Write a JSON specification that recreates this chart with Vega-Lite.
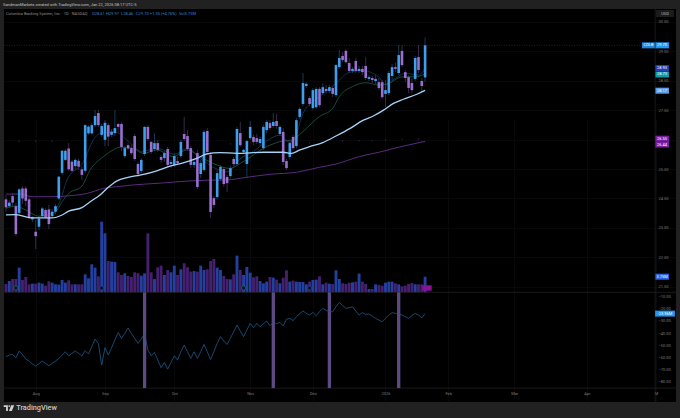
{
  "$schema": "https://vega.github.io/schema/vega-lite/v6.json",
  "width": 672,
  "height": 393,
  "padding": {"left": 4, "top": 9, "right": 4, "bottom": 16},
  "autosize": {"type": "none"},
  "background": "#212121",
  "view": {"fill": "#000000", "stroke": null},
  "title": {
    "text": "SandmanMarkets created with TradingView.com, Jan 22, 2026 08:17 UTC-5",
    "anchor": "start",
    "frame": "group",
    "font": "Roboto",
    "fontSize": 4,
    "fontWeight": "normal",
    "color": "#c4c4c4",
    "offset": 2,
    "dx": -1
  },
  "data": {"values": [{}]},
  "datasets": {
    "candles": [
      {"bar":-9,"open":24.47,"high":24.62,"low":24.04,"close":24.2,"dir":"d","vol":2.0,"ind":-59.6},
      {"bar":-8,"open":24.24,"high":24.45,"low":24.18,"close":24.36,"dir":"u","vol":2.72,"ind":-58.2},
      {"bar":-7,"open":24.58,"high":24.68,"low":24.24,"close":24.36,"dir":"d","vol":3.2,"ind":-57.7},
      {"bar":-6,"open":24.24,"high":24.35,"low":23.22,"close":23.29,"dir":"d","vol":3.2,"ind":-60.4},
      {"bar":-5,"open":24.01,"high":24.85,"low":23.97,"close":24.81,"dir":"u","vol":5.93,"ind":-54.9},
      {"bar":-4,"open":24.84,"high":24.92,"low":24.31,"close":24.5,"dir":"d","vol":2.96,"ind":-57.7},
      {"bar":-3,"open":24.84,"high":24.92,"low":24.24,"close":24.42,"dir":"d","vol":3.68,"ind":-61.5},
      {"bar":-2,"open":24.47,"high":24.55,"low":23.8,"close":23.86,"dir":"d","vol":1.92,"ind":-63.2},
      {"bar":-1,"open":23.79,"high":23.9,"low":23.7,"close":23.86,"dir":"u","vol":2.08,"ind":-65.6},
      {"bar":0,"open":23.37,"high":23.77,"low":22.78,"close":23.22,"dir":"d","vol":2.08,"ind":-67.3},
      {"bar":1,"open":23.54,"high":23.9,"low":23.43,"close":23.82,"dir":"u","vol":2.32,"ind":-65.4},
      {"bar":2,"open":23.9,"high":24.21,"low":23.84,"close":24.16,"dir":"u","vol":2.08,"ind":-63.2},
      {"bar":3,"open":24.11,"high":24.18,"low":23.8,"close":23.86,"dir":"d","vol":1.6,"ind":-65.1},
      {"bar":4,"open":24.13,"high":24.28,"low":23.46,"close":23.63,"dir":"d","vol":2.64,"ind":-67},
      {"bar":5,"open":23.9,"high":24.14,"low":23.84,"close":24.05,"dir":"u","vol":2.32,"ind":-65.1},
      {"bar":6,"open":24.05,"high":24.31,"low":23.97,"close":24.24,"dir":"u","vol":1.92,"ind":-63.2},
      {"bar":7,"open":24.5,"high":25.26,"low":24.45,"close":25.24,"dir":"u","vol":1.84,"ind":-61},
      {"bar":8,"open":25.37,"high":26.15,"low":25.3,"close":26.12,"dir":"u","vol":2.96,"ind":-58.2},
      {"bar":9,"open":25.81,"high":26.18,"low":25.77,"close":26.12,"dir":"u","vol":2.32,"ind":-55.5},
      {"bar":10,"open":26.2,"high":26.38,"low":25.43,"close":25.49,"dir":"d","vol":2.88,"ind":-58.8},
      {"bar":11,"open":25.75,"high":25.81,"low":25.4,"close":25.44,"dir":"d","vol":1.92,"ind":-56.8},
      {"bar":12,"open":25.6,"high":25.87,"low":25.47,"close":25.81,"dir":"u","vol":1.92,"ind":-54.9},
      {"bar":13,"open":25.78,"high":25.84,"low":25.47,"close":25.58,"dir":"d","vol":1.92,"ind":-56.8},
      {"bar":14,"open":25.49,"high":25.58,"low":25.13,"close":25.3,"dir":"d","vol":1.92,"ind":-59},
      {"bar":15,"open":25.44,"high":27.03,"low":25.37,"close":26.99,"dir":"u","vol":4.33,"ind":-54.6},
      {"bar":16,"open":26.71,"high":26.99,"low":26.66,"close":26.94,"dir":"u","vol":3.36,"ind":-57.4},
      {"bar":17,"open":26.71,"high":27.06,"low":26.66,"close":26.99,"dir":"u","vol":6.73,"ind":-51.3},
      {"bar":18,"open":26.99,"high":27.5,"low":26.93,"close":27.3,"dir":"u","vol":5.93,"ind":-45},
      {"bar":19,"open":27.4,"high":27.5,"low":26.93,"close":26.99,"dir":"d","vol":3.84,"ind":-48.6},
      {"bar":20,"open":26.66,"high":27.03,"low":26.59,"close":26.96,"dir":"u","vol":16.98,"ind":-66.5},
      {"bar":21,"open":26.49,"high":27.16,"low":26.28,"close":27.07,"dir":"u","vol":14.18,"ind":-52.1},
      {"bar":22,"open":26.99,"high":27.06,"low":26.28,"close":26.6,"dir":"d","vol":7.53,"ind":-58.2},
      {"bar":23,"open":26.66,"high":26.86,"low":26.59,"close":26.77,"dir":"u","vol":7.37,"ind":-52.1},
      {"bar":24,"open":26.72,"high":27.5,"low":26.62,"close":26.89,"dir":"u","vol":7.29,"ind":-45.8},
      {"bar":25,"open":27.03,"high":27.06,"low":26.76,"close":26.93,"dir":"d","vol":4.81,"ind":-39.5},
      {"bar":26,"open":27.03,"high":27.1,"low":26.11,"close":26.25,"dir":"d","vol":4.17,"ind":-44.4},
      {"bar":27,"open":25.94,"high":26.28,"low":25.87,"close":26.21,"dir":"u","vol":4.57,"ind":-40.3},
      {"bar":28,"open":26.31,"high":26.38,"low":26.15,"close":26.2,"dir":"d","vol":3.92,"ind":-35.9},
      {"bar":29,"open":26.21,"high":26.31,"low":25.98,"close":26.04,"dir":"d","vol":3.68,"ind":-40.3},
      {"bar":30,"open":26.62,"high":26.69,"low":25.77,"close":25.84,"dir":"d","vol":4.81,"ind":-44.4},
      {"bar":31,"open":25.67,"high":25.74,"low":25.23,"close":25.33,"dir":"d","vol":4.57,"ind":-48.6},
      {"bar":32,"open":25.43,"high":25.87,"low":25.36,"close":25.81,"dir":"u","vol":4.0,"ind":-45},
      {"bar":33,"open":26.01,"high":26.96,"low":25.94,"close":26.93,"dir":"u","vol":4.57,"ind":-40.3},
      {"bar":34,"open":26.93,"high":26.99,"low":26.45,"close":26.52,"dir":"d","vol":14.18,"ind":-54.1},
      {"bar":35,"open":26.42,"high":26.45,"low":26.01,"close":26.08,"dir":"d","vol":4.81,"ind":-58.8},
      {"bar":36,"open":26.18,"high":26.72,"low":26.11,"close":26.38,"dir":"u","vol":3.2,"ind":-56},
      {"bar":37,"open":26.38,"high":26.49,"low":26.08,"close":26.15,"dir":"d","vol":6.01,"ind":-62.3},
      {"bar":38,"open":25.91,"high":25.98,"low":25.7,"close":25.81,"dir":"d","vol":6.41,"ind":-68.7},
      {"bar":39,"open":25.87,"high":26.11,"low":25.74,"close":26.04,"dir":"u","vol":4.17,"ind":-64.3},
      {"bar":40,"open":26.18,"high":26.25,"low":25.57,"close":25.64,"dir":"d","vol":5.37,"ind":-69.8},
      {"bar":41,"open":25.67,"high":25.81,"low":25.53,"close":25.74,"dir":"u","vol":4.81,"ind":-64.3},
      {"bar":42,"open":25.64,"high":26.04,"low":25.57,"close":25.94,"dir":"u","vol":6.41,"ind":-58.8},
      {"bar":43,"open":25.77,"high":25.91,"low":25.64,"close":25.7,"dir":"d","vol":4.17,"ind":-62.3},
      {"bar":44,"open":25.94,"high":26.49,"low":25.87,"close":26.42,"dir":"u","vol":5.53,"ind":-55.5},
      {"bar":45,"open":26.69,"high":27.27,"low":26.45,"close":26.52,"dir":"d","vol":6.97,"ind":-49.9},
      {"bar":46,"open":26.62,"high":26.82,"low":26.11,"close":26.18,"dir":"d","vol":6.01,"ind":-55.5},
      {"bar":47,"open":26.21,"high":26.28,"low":25.53,"close":25.64,"dir":"d","vol":4.97,"ind":-61},
      {"bar":48,"open":25.64,"high":25.87,"low":25.53,"close":25.74,"dir":"u","vol":5.13,"ind":-55.5},
      {"bar":49,"open":26.04,"high":26.15,"low":24.82,"close":24.89,"dir":"d","vol":4.97,"ind":-61},
      {"bar":50,"open":25.33,"high":25.81,"low":25.19,"close":25.7,"dir":"u","vol":6.41,"ind":-55.5},
      {"bar":51,"open":25.47,"high":26.82,"low":25.4,"close":26.76,"dir":"u","vol":5.37,"ind":-49.4},
      {"bar":52,"open":26.79,"high":26.89,"low":26.01,"close":26.08,"dir":"d","vol":5.53,"ind":-55.5},
      {"bar":53,"open":25.98,"high":26.08,"low":23.84,"close":24.04,"dir":"d","vol":7.53,"ind":-61.8},
      {"bar":54,"open":24.51,"high":24.58,"low":24.18,"close":24.28,"dir":"d","vol":8.01,"ind":-55.5},
      {"bar":55,"open":24.55,"high":25.47,"low":24.48,"close":25.36,"dir":"u","vol":5.93,"ind":-48.6},
      {"bar":56,"open":25.16,"high":25.64,"low":25.09,"close":25.57,"dir":"u","vol":5.37,"ind":-43},
      {"bar":57,"open":25.5,"high":25.57,"low":24.89,"close":24.99,"dir":"d","vol":3.92,"ind":-46.6},
      {"bar":58,"open":25.23,"high":25.3,"low":24.72,"close":25.02,"dir":"d","vol":3.2,"ind":-49.4},
      {"bar":59,"open":25.26,"high":25.6,"low":25.19,"close":25.53,"dir":"u","vol":3.12,"ind":-44.4},
      {"bar":60,"open":25.84,"high":25.91,"low":25.6,"close":25.67,"dir":"d","vol":4.33,"ind":-38.9},
      {"bar":61,"open":25.67,"high":26.93,"low":25.6,"close":26.86,"dir":"u","vol":8.81,"ind":-33.4},
      {"bar":62,"open":26.72,"high":27.1,"low":26.25,"close":26.31,"dir":"d","vol":5.37,"ind":-38.4},
      {"bar":63,"open":26.08,"high":26.18,"low":26.04,"close":26.15,"dir":"u","vol":4.17,"ind":-43},
      {"bar":64,"open":25.67,"high":26.49,"low":25.19,"close":26.45,"dir":"u","vol":6.09,"ind":-37.5},
      {"bar":65,"open":26.55,"high":27.13,"low":26.49,"close":26.93,"dir":"u","vol":4.73,"ind":-32},
      {"bar":66,"open":26.59,"high":26.66,"low":26.31,"close":26.42,"dir":"d","vol":3.6,"ind":-35.6},
      {"bar":67,"open":26.55,"high":26.69,"low":26.35,"close":26.42,"dir":"d","vol":3.84,"ind":-32},
      {"bar":68,"open":26.38,"high":26.59,"low":26.28,"close":26.52,"dir":"u","vol":2.72,"ind":-34.8},
      {"bar":69,"open":26.21,"high":26.99,"low":26.15,"close":26.93,"dir":"u","vol":2.16,"ind":-32.3},
      {"bar":70,"open":26.82,"high":27.16,"low":26.72,"close":27.1,"dir":"u","vol":2.56,"ind":-30.1},
      {"bar":71,"open":27.06,"high":27.16,"low":26.82,"close":26.89,"dir":"d","vol":3.68,"ind":-34},
      {"bar":72,"open":26.96,"high":27.4,"low":26.89,"close":27.1,"dir":"u","vol":3.52,"ind":-31.2},
      {"bar":73,"open":27.13,"high":27.37,"low":26.86,"close":26.96,"dir":"d","vol":3.04,"ind":-32.3},
      {"bar":74,"open":26.69,"high":26.99,"low":26.62,"close":26.93,"dir":"u","vol":2.16,"ind":-31.2},
      {"bar":75,"open":26.76,"high":26.89,"low":25.64,"close":25.74,"dir":"d","vol":3.52,"ind":-34.2},
      {"bar":76,"open":25.77,"high":25.84,"low":25.47,"close":25.53,"dir":"d","vol":5.29,"ind":-28.5},
      {"bar":77,"open":25.91,"high":26.45,"low":25.84,"close":26.38,"dir":"u","vol":2.56,"ind":-27.9},
      {"bar":78,"open":26.59,"high":26.66,"low":26.15,"close":26.21,"dir":"d","vol":2.8,"ind":-29.8},
      {"bar":79,"open":26.28,"high":27.23,"low":26.21,"close":27.16,"dir":"u","vol":2.56,"ind":-26.5},
      {"bar":80,"open":27.27,"high":27.6,"low":27.2,"close":27.54,"dir":"u","vol":2.48,"ind":-24},
      {"bar":81,"open":27.71,"high":28.76,"low":27.64,"close":28.42,"dir":"u","vol":2.48,"ind":-21.8},
      {"bar":82,"open":28.32,"high":28.45,"low":28.25,"close":28.39,"dir":"u","vol":1.92,"ind":-23.8},
      {"bar":83,"open":27.91,"high":27.98,"low":27.64,"close":27.71,"dir":"d","vol":2.56,"ind":-25.2},
      {"bar":84,"open":27.57,"high":28.25,"low":27.5,"close":28.18,"dir":"u","vol":2.96,"ind":-23},
      {"bar":85,"open":27.6,"high":28.28,"low":27.54,"close":28.22,"dir":"u","vol":3.04,"ind":-25.7},
      {"bar":86,"open":28.22,"high":28.28,"low":27.6,"close":27.67,"dir":"d","vol":3.84,"ind":-22.4},
      {"bar":87,"open":28.08,"high":28.42,"low":28.01,"close":28.28,"dir":"u","vol":1.92,"ind":-19.6},
      {"bar":88,"open":28.22,"high":28.35,"low":28.05,"close":28.15,"dir":"d","vol":2.32,"ind":-21.3},
      {"bar":89,"open":28.15,"high":28.35,"low":28.08,"close":28.28,"dir":"u","vol":2.08,"ind":-22.4},
      {"bar":90,"open":28.25,"high":28.32,"low":27.94,"close":28.05,"dir":"d","vol":2.0,"ind":-22.4},
      {"bar":91,"open":28.01,"high":29.07,"low":27.94,"close":29.03,"dir":"u","vol":5.29,"ind":-18.3},
      {"bar":92,"open":28.96,"high":29.54,"low":28.9,"close":29.27,"dir":"u","vol":3.2,"ind":-14.7},
      {"bar":93,"open":29.34,"high":29.47,"low":29.13,"close":29.2,"dir":"d","vol":2.16,"ind":-17.4},
      {"bar":94,"open":29.51,"high":29.57,"low":29.07,"close":29.13,"dir":"d","vol":2.0,"ind":-19.6},
      {"bar":95,"open":29.1,"high":29.27,"low":28.76,"close":28.83,"dir":"d","vol":2.32,"ind":-19.1},
      {"bar":96,"open":28.83,"high":28.96,"low":28.76,"close":28.9,"dir":"u","vol":2.4,"ind":-18.3},
      {"bar":97,"open":29.17,"high":29.27,"low":28.76,"close":28.83,"dir":"d","vol":2.56,"ind":-21.8},
      {"bar":98,"open":28.83,"high":29.0,"low":28.76,"close":28.9,"dir":"u","vol":4.49,"ind":-25.2},
      {"bar":99,"open":28.9,"high":29.0,"low":28.69,"close":28.79,"dir":"d","vol":2.56,"ind":-23.2},
      {"bar":100,"open":29.0,"high":29.3,"low":28.52,"close":28.59,"dir":"d","vol":2.0,"ind":-24.6},
      {"bar":101,"open":28.56,"high":28.69,"low":28.49,"close":28.62,"dir":"u","vol":0.8,"ind":-24.3},
      {"bar":102,"open":28.59,"high":28.66,"low":28.42,"close":28.52,"dir":"d","vol":0.8,"ind":-26},
      {"bar":103,"open":28.49,"high":28.69,"low":28.39,"close":28.56,"dir":"u","vol":1.92,"ind":-27.9},
      {"bar":104,"open":28.45,"high":28.59,"low":28.18,"close":28.25,"dir":"d","vol":1.76,"ind":-29.3},
      {"bar":105,"open":28.45,"high":28.52,"low":27.88,"close":27.94,"dir":"d","vol":1.6,"ind":-30.7},
      {"bar":106,"open":28.05,"high":28.52,"low":27.6,"close":28.18,"dir":"u","vol":2.32,"ind":-27.9},
      {"bar":107,"open":28.08,"high":28.83,"low":28.01,"close":28.76,"dir":"u","vol":2.56,"ind":-25.2},
      {"bar":108,"open":28.66,"high":29.07,"low":28.52,"close":28.96,"dir":"u","vol":2.56,"ind":-23.2},
      {"bar":109,"open":28.96,"high":29.1,"low":28.79,"close":28.9,"dir":"d","vol":2.16,"ind":-23.8},
      {"bar":110,"open":28.76,"high":29.71,"low":28.69,"close":29.37,"dir":"u","vol":1.92,"ind":-23.8},
      {"bar":111,"open":29.51,"high":29.71,"low":28.96,"close":29.03,"dir":"d","vol":1.44,"ind":-25.2},
      {"bar":112,"open":28.79,"high":28.86,"low":28.45,"close":28.59,"dir":"d","vol":1.6,"ind":-26.5},
      {"bar":113,"open":28.62,"high":28.69,"low":28.08,"close":28.25,"dir":"d","vol":2.0,"ind":-27.9},
      {"bar":114,"open":28.42,"high":28.59,"low":28.08,"close":28.18,"dir":"d","vol":2.24,"ind":-25.7},
      {"bar":115,"open":28.56,"high":29.34,"low":28.49,"close":29.27,"dir":"u","vol":1.92,"ind":-23.8},
      {"bar":116,"open":29.3,"high":29.71,"low":28.76,"close":28.86,"dir":"d","vol":1.92,"ind":-25.2},
      {"bar":117,"open":28.49,"high":28.59,"low":28.11,"close":28.32,"dir":"d","vol":1.92,"ind":-27.4},
      {"bar":118,"open":28.61,"high":29.97,"low":28.46,"close":29.7,"dir":"u","vol":3.75,"ind":-23.96}
    ],
    "slowEma": [
      {"bar":-9,"price":23.94},{"bar":-6,"price":23.95},{"bar":-1,"price":23.84},{"bar":5,"price":23.84},
      {"bar":8,"price":23.94},{"bar":10,"price":24.07},{"bar":14,"price":24.19},{"bar":16.5,"price":24.39},
      {"bar":19.5,"price":24.62},{"bar":22,"price":24.88},{"bar":24.5,"price":25.09},{"bar":28,"price":25.22},
      {"bar":32,"price":25.3},{"bar":36.7,"price":25.44},{"bar":40.7,"price":25.6},{"bar":44.7,"price":25.71},
      {"bar":48.8,"price":25.86},{"bar":51.8,"price":26.01},{"bar":55.9,"price":26.06},{"bar":60.8,"price":26.03},
      {"bar":69,"price":26.07},{"bar":75,"price":26.07},{"bar":77.5,"price":26.03},{"bar":80.1,"price":26.15},
      {"bar":83,"price":26.26},{"bar":87,"price":26.4},{"bar":91,"price":26.62},{"bar":95.3,"price":26.88},
      {"bar":99.3,"price":27.16},{"bar":102.3,"price":27.3},{"bar":105.4,"price":27.5},{"bar":108.4,"price":27.73},
      {"bar":111.4,"price":27.87},{"bar":115.5,"price":28.04},{"bar":118,"price":28.17}
    ],
    "longMa": [
      {"bar":-9,"price":24.65},{"bar":-5,"price":24.65},{"bar":-1,"price":24.56},{"bar":5,"price":24.56},
      {"bar":10,"price":24.59},{"bar":15.5,"price":24.67},{"bar":20.5,"price":24.84},{"bar":24.5,"price":24.9},
      {"bar":29.6,"price":24.96},{"bar":37.7,"price":25.02},{"bar":45.8,"price":25.09},{"bar":52,"price":25.12},
      {"bar":57.8,"price":25.13},{"bar":64,"price":25.22},{"bar":71,"price":25.32},{"bar":79,"price":25.39},
      {"bar":86,"price":25.56},{"bar":91,"price":25.67},{"bar":98,"price":25.92},{"bar":104,"price":26.07},
      {"bar":110,"price":26.24},{"bar":118,"price":26.44}
    ],
    "midEma": [
      {"bar":-9,"price":24.17},{"bar":-6,"price":24.24},{"bar":-3,"price":24.11},{"bar":1,"price":23.9},
      {"bar":6,"price":24.05},{"bar":8,"price":24.39},{"bar":10,"price":24.67},{"bar":14,"price":24.92},
      {"bar":16.5,"price":25.47},{"bar":20.5,"price":25.92},{"bar":23.5,"price":26.15},{"bar":25.5,"price":26.24},
      {"bar":29.6,"price":26.2},{"bar":32.6,"price":26.03},{"bar":36.7,"price":26.15},{"bar":41.7,"price":25.92},
      {"bar":45.8,"price":26.15},{"bar":49.8,"price":25.92},{"bar":53.8,"price":25.69},{"bar":58.9,"price":25.52},
      {"bar":62,"price":25.69},{"bar":70,"price":26.26},{"bar":74,"price":26.43},{"bar":78,"price":26.49},
      {"bar":79.5,"price":26.62},{"bar":82,"price":26.88},{"bar":86,"price":27.28},{"bar":90,"price":27.56},
      {"bar":92,"price":27.96},{"bar":96,"price":28.3},{"bar":100,"price":28.43},{"bar":104,"price":28.35},
      {"bar":107,"price":28.41},{"bar":111,"price":28.63},{"bar":115,"price":28.63},{"bar":118,"price":28.73}
    ],
    "fastEma": [
      {"bar":6,"price":24.11},{"bar":7.5,"price":24.45},{"bar":9.5,"price":25.13},{"bar":14.5,"price":25.75},
      {"bar":17.5,"price":26.49},{"bar":19.5,"price":26.71},{"bar":24,"price":26.75},{"bar":28,"price":26.45},
      {"bar":32,"price":26.1},{"bar":37,"price":26.2},{"bar":42,"price":26.0},{"bar":46,"price":26.2},
      {"bar":50,"price":25.85},{"bar":54,"price":25.55},{"bar":58,"price":25.4},{"bar":62,"price":25.85},
      {"bar":66,"price":26.1},{"bar":70,"price":26.45},{"bar":74,"price":26.65},{"bar":77,"price":26.4},
      {"bar":79,"price":26.71},{"bar":81,"price":27.39},{"bar":86,"price":27.96},{"bar":91,"price":28.41},
      {"bar":95,"price":28.78},{"bar":99,"price":28.84},{"bar":104,"price":28.63},{"bar":106,"price":28.35},
      {"bar":109,"price":28.58},{"bar":112,"price":28.75},{"bar":116,"price":28.69},{"bar":118,"price":28.93}
    ],
    "dashes": [
      {"bar":-5,"price":26.45},{"bar":0,"price":26.45},{"bar":5,"price":26.45},{"bar":59,"price":26.35},
      {"bar":83,"price":26.39},{"bar":93,"price":26.45},{"bar":98,"price":26.46},{"bar":102,"price":26.46},
      {"bar":106,"price":26.49},{"bar":111,"price":26.52},{"bar":116,"price":26.52}
    ],
    "header": [
      {"bar":-9,"price":30.764,"kind":"name","text":"Columbia Banking System, Inc. · 1D · NASDAQ"},
      {"bar":17.06,"price":30.764,"kind":"value","text":"O28.61"},
      {"bar":21.3,"price":30.764,"kind":"value","text":"H29.97"},
      {"bar":25.85,"price":30.764,"kind":"value","text":"L28.46"},
      {"bar":30.4,"price":30.764,"kind":"value","text":"C29.70"},
      {"bar":34.6,"price":30.764,"kind":"value","text":"+1.35 (+4.76%)"},
      {"bar":43.4,"price":30.764,"kind":"value","text":"Vol3.75M"}
    ],
    "priceTags": [
      {"price":29.7,"series":"last","text":"29.70"},
      {"price":28.93,"series":"fast","text":"28.93"},
      {"price":28.71,"series":"mid","text":"28.73"},
      {"price":28.16,"series":"slow","text":"28.17"},
      {"price":26.53,"series":"long","text":"26.55"},
      {"price":26.33,"series":"long","text":"26.44"}
    ],
    "markers": [
      {"bar":-6,"vol":1.03,"kind":"earnings"},
      {"bar":20,"vol":1.03,"kind":"other"},
      {"bar":63,"vol":1.03,"kind":"earnings"},
      {"bar":83,"vol":1.03,"kind":"other"}
    ],
    "events": [{"bar":118,"vol":1.03},{"bar":119.2,"vol":1.03}],
    "bands": [{"bar":33},{"bar":72},{"bar":89},{"bar":110}]
  },
  "layer": [
    {
      "resolve": {"scale": {"color": "independent"}},
      "layer": [
        {
          "data": {"name": "candles"},
          "mark": {"type": "rule", "strokeWidth": 0.6, "opacity": 0.6},
          "encoding": {
            "x": {
              "field": "bar",
              "type": "quantitative",
              "scale": {"domain": [-9.6, 194.03], "nice": false, "zero": false, "padding": 0},
              "axis": {
                "orient": "bottom",
                "offset": -14,
                "values": [0, 21, 42, 65, 84, 106, 125, 145, 167, 188],
                "labelExpr": "{'0':'Aug','21':'Sep','42':'Oct','65':'Nov','84':'Dec','106':'2026','125':'Feb','145':'Mar','167':'Apr','188':'M'}['' + datum.value]",
                "labelFlush": false
              }
            },
            "y": {
              "field": "low",
              "type": "quantitative",
              "scale": {"domain": [21.314, 30.934], "range": [283.3, 0], "nice": false, "zero": false},
              "axis": {
                "orient": "right",
                "offset": -21,
                "values": [21.5, 22, 22.5, 23, 23.5, 24, 24.5, 25, 25.5, 26, 26.5, 27, 27.5, 28, 28.5, 29, 29.5, 30, 30.5],
                "format": ".2f"
              }
            },
            "y2": {"field": "high"},
            "color": {
              "field": "dir",
              "type": "nominal",
              "scale": {"domain": ["u", "d"], "range": ["#3f9fee", "#9a6fd0"]},
              "legend": null
            }
          }
        },
        {
          "mark": {"type": "rule", "strokeDash": [1, 1.5], "strokeWidth": 0.5, "color": "#2c4a60"},
          "encoding": {
            "x": {"datum": -9.6, "type": "quantitative"},
            "x2": {"datum": 187.7},
            "y": {"datum": 29.7, "type": "quantitative"}
          }
        },
        {
          "data": {"name": "longMa"},
          "mark": {"type": "line", "color": "#5a2a80", "strokeWidth": 1, "interpolate": "monotone"},
          "encoding": {
            "x": {"field": "bar", "type": "quantitative"},
            "y": {"field": "price", "type": "quantitative"}
          }
        },
        {
          "data": {"name": "dashes"},
          "mark": {"type": "point", "shape": "square", "filled": true, "size": 1.5, "color": "#5a2a78"},
          "encoding": {
            "x": {"field": "bar", "type": "quantitative"},
            "y": {"field": "price", "type": "quantitative"}
          }
        },
        {
          "data": {"name": "midEma"},
          "mark": {"type": "line", "color": "#1c5f4a", "strokeWidth": 0.8, "interpolate": "monotone"},
          "encoding": {
            "x": {"field": "bar", "type": "quantitative"},
            "y": {"field": "price", "type": "quantitative"}
          }
        },
        {
          "data": {"name": "fastEma"},
          "mark": {"type": "line", "color": "#1e4470", "strokeWidth": 0.7, "interpolate": "monotone"},
          "encoding": {
            "x": {"field": "bar", "type": "quantitative"},
            "y": {"field": "price", "type": "quantitative"}
          }
        },
        {
          "data": {"name": "candles"},
          "mark": {"type": "bar", "size": 2.6, "orient": "vertical"},
          "encoding": {
            "x": {"field": "bar", "type": "quantitative"},
            "y": {"field": "open", "type": "quantitative"},
            "y2": {"field": "close"},
            "color": {
              "field": "dir",
              "type": "nominal",
              "scale": {"domain": ["u", "d"], "range": ["#3f9fee", "#9a6fd0"]},
              "legend": null
            }
          }
        },
        {
          "data": {"name": "slowEma"},
          "mark": {"type": "line", "color": "#a6d3f7", "strokeWidth": 1.3, "interpolate": "monotone"},
          "encoding": {
            "x": {"field": "bar", "type": "quantitative"},
            "y": {"field": "price", "type": "quantitative"}
          }
        },
        {
          "data": {"name": "header"},
          "mark": {"type": "text", "align": "left", "baseline": "middle", "font": "Roboto", "fontSize": 4},
          "encoding": {
            "x": {"field": "bar", "type": "quantitative"},
            "y": {"field": "price", "type": "quantitative"},
            "text": {"field": "text"},
            "color": {
              "field": "kind",
              "type": "nominal",
              "scale": {"domain": ["name", "value"], "range": ["#8c8c8c", "#2a86d2"]},
              "legend": null
            }
          }
        },
        {
          "mark": {"type": "rule", "strokeWidth": 6, "color": "#1f86de"},
          "encoding": {
            "x": {"datum": 183.7, "type": "quantitative"},
            "x2": {"datum": 187.7},
            "y": {"datum": 29.7, "type": "quantitative"}
          }
        },
        {
          "mark": {"type": "text", "font": "Roboto", "fontSize": 4, "color": "#ffffff", "text": "COLB"},
          "encoding": {
            "x": {"datum": 185.7, "type": "quantitative"},
            "y": {"datum": 29.7, "type": "quantitative"}
          }
        },
        {
          "data": {"name": "priceTags"},
          "mark": {"type": "rule", "strokeWidth": 6},
          "encoding": {
            "x": {"datum": 187.7, "type": "quantitative"},
            "x2": {"datum": 191.9},
            "y": {"field": "price", "type": "quantitative"},
            "color": {
              "field": "series",
              "type": "nominal",
              "scale": {
                "domain": ["last", "fast", "mid", "slow", "long"],
                "range": ["#2196f3", "#2340b0", "#0ba0a8", "#5c9ce6", "#7b1fa2"]
              },
              "legend": null
            }
          }
        },
        {
          "data": {"name": "priceTags"},
          "mark": {"type": "text", "font": "Roboto", "fontSize": 4, "color": "#ffffff"},
          "encoding": {
            "x": {"datum": 189.8, "type": "quantitative"},
            "y": {"field": "price", "type": "quantitative"},
            "text": {"field": "text"}
          }
        },
        {
          "mark": {"type": "rule", "strokeWidth": 7, "color": "#1c1c1c"},
          "encoding": {
            "x": {"datum": 188, "type": "quantitative"},
            "x2": {"datum": 193.4},
            "y": {"datum": 30.78, "type": "quantitative"}
          }
        },
        {
          "mark": {"type": "text", "font": "Roboto", "fontSize": 4, "color": "#b8b8b8", "text": "USD"},
          "encoding": {
            "x": {"datum": 190.7, "type": "quantitative"},
            "y": {"datum": 30.78, "type": "quantitative"}
          }
        }
      ]
    },
    {
      "resolve": {"scale": {"color": "independent"}},
      "layer": [
        {
          "data": {"name": "candles"},
          "mark": {"type": "bar", "size": 2.9, "orient": "vertical"},
          "encoding": {
            "x": {"field": "bar", "type": "quantitative"},
            "y": {
              "field": "vol",
              "type": "quantitative",
              "scale": {"domain": [0, 20], "range": [283.3, 200.1], "nice": false},
              "axis": null
            },
            "color": {
              "field": "dir",
              "type": "nominal",
              "scale": {"domain": ["u", "d"], "range": ["#2340a0", "#44206e"]},
              "legend": null
            }
          }
        },
        {
          "data": {"name": "events"},
          "mark": {"type": "point", "shape": "square", "filled": true, "size": 28, "color": "#8a129a", "opacity": 1},
          "encoding": {
            "x": {"field": "bar", "type": "quantitative"},
            "y": {"field": "vol", "type": "quantitative", "axis": null}
          }
        },
        {
          "data": {"name": "markers"},
          "mark": {"type": "point", "filled": true, "fill": "#06141c", "opacity": 1, "size": 18, "strokeWidth": 0.7},
          "encoding": {
            "x": {"field": "bar", "type": "quantitative"},
            "y": {"field": "vol", "type": "quantitative", "axis": null},
            "stroke": {
              "field": "kind",
              "type": "nominal",
              "scale": {"domain": ["earnings", "other"], "range": ["#1a7a50", "#2a4aa0"]},
              "legend": null
            }
          }
        },
        {
          "mark": {"type": "rule", "strokeWidth": 6, "color": "#2d62e0"},
          "encoding": {
            "x": {"datum": 187.7, "type": "quantitative"},
            "x2": {"datum": 191.9},
            "y": {"datum": 3.75, "type": "quantitative", "axis": null}
          }
        },
        {
          "mark": {"type": "text", "font": "Roboto", "fontSize": 4, "color": "#ffffff", "text": "3.75M"},
          "encoding": {
            "x": {"datum": 189.8, "type": "quantitative"},
            "y": {"datum": 3.75, "type": "quantitative", "axis": null}
          }
        }
      ]
    },
    {
      "layer": [
        {
          "mark": {"type": "rule", "strokeWidth": 0.7, "color": "#242424"},
          "encoding": {
            "y": {
              "datum": -6.36,
              "type": "quantitative",
              "scale": {"domain": [-97, -6.36], "range": [393, 283.3], "nice": false, "zero": false},
              "axis": {
                "orient": "right",
                "offset": -21,
                "values": [-10, -20, -30, -40, -50, -60, -70, -80],
                "format": ".2f"
              }
            }
          }
        },
        {
          "mark": {"type": "rule", "strokeWidth": 0.7, "color": "#242424"},
          "encoding": {"y": {"datum": -85.5, "type": "quantitative"}}
        },
        {
          "mark": {"type": "rule", "strokeWidth": 0.7, "color": "#242424"},
          "encoding": {"x": {"datum": 187.7, "type": "quantitative"}}
        },
        {
          "data": {"name": "bands"},
          "mark": {"type": "rule", "strokeWidth": 3.3, "color": "#5d4a85"},
          "encoding": {
            "x": {"field": "bar", "type": "quantitative"},
            "y": {"datum": -6.36, "type": "quantitative"},
            "y2": {"datum": -85.5}
          }
        },
        {
          "data": {"name": "candles"},
          "mark": {"type": "line", "color": "#1d5a8c", "strokeWidth": 0.8},
          "encoding": {
            "x": {"field": "bar", "type": "quantitative"},
            "y": {"field": "ind", "type": "quantitative"}
          }
        },
        {
          "mark": {"type": "rule", "strokeWidth": 6, "color": "#2196f3"},
          "encoding": {
            "x": {"datum": 187.7, "type": "quantitative"},
            "x2": {"datum": 193.7},
            "y": {"datum": -23.96, "type": "quantitative"}
          }
        },
        {
          "mark": {"type": "text", "font": "Roboto", "fontSize": 4, "color": "#ffffff", "text": "-23.96M"},
          "encoding": {
            "x": {"datum": 190.7, "type": "quantitative"},
            "y": {"datum": -23.96, "type": "quantitative"}
          }
        },
        {
          "mark": {"type": "point", "shape": "M-1 -0.55H-0.2V0.55H-0.55V-0.2H-1ZM-0.12 -0.38A0.17 0.17 0 1 0 0.22 -0.38A0.17 0.17 0 1 0 -0.12 -0.38ZM0.42 -0.55H1L0.55 0.55H0Z", "filled": true, "size": 110, "opacity": 1, "color": "#d0d0d0"},
          "encoding": {
            "x": {"datum": -8.1, "type": "quantitative"},
            "y": {"datum": -102, "type": "quantitative"}
          }
        },
        {
          "mark": {"type": "text", "align": "left", "font": "Roboto", "fontSize": 7.3, "fontWeight": 500, "color": "#c8c8c8", "text": "TradingView"},
          "encoding": {
            "x": {"datum": -5.9, "type": "quantitative"},
            "y": {"datum": -102, "type": "quantitative"}
          }
        }
      ]
    }
  ],
  "resolve": {"scale": {"y": "independent", "color": "independent"}},
  "config": {
    "axis": {
      "title": null,
      "domain": false,
      "ticks": false,
      "grid": true,
      "gridColor": "#0c0e11",
      "gridWidth": 0.6,
      "labelFont": "Roboto",
      "labelFontSize": 4,
      "labelColor": "#7c7c7c",
      "labelPadding": 3,
      "labelOverlap": false
    }
  }
}
